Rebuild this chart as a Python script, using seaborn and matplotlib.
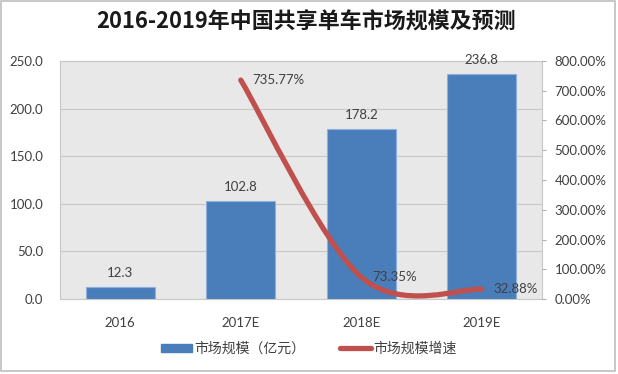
import numpy as np
import pandas as pd
import matplotlib
matplotlib.use('Agg')
import matplotlib.pyplot as plt
import seaborn as sns
from matplotlib.path import Path
import matplotlib.patches as mpatches
from matplotlib.lines import Line2D

# Data
years = ['2016', '2017E', '2018E', '2019E']
market_size = [12.3, 102.8, 178.2, 236.8]          # 亿元
growth_years = ['2017E', '2018E', '2019E']
growth_rate = [735.77, 73.35, 32.88]               # %
size_ticks = [0, 50, 100, 150, 200, 250]
rate_ticks = [0, 100, 200, 300, 400, 500, 600, 700, 800]

bar_color = '#4a7ebb'
line_color = '#c0504d'
text_color = '#404040'

sns.set_style('white')
plt.rcParams['font.family'] = ['Lato', 'Noto Sans CJK SC', 'DejaVu Sans']

fig = plt.figure(figsize=(6.18, 3.74), dpi=100, facecolor='w')
ax = fig.add_axes([0.0971, 0.2005, 0.78, 0.6365])
ax.set_facecolor('#e8e8e8')

df = pd.DataFrame({'year': years, 'size': market_size})
sns.barplot(ax=ax, data=df, x='year', y='size', color=bar_color, saturation=1,
            width=0.57, edgecolor='#8fb0dc', linewidth=0.8, zorder=3)

ax.set_ylim(0, 250)
ax.set_xlim(-0.5, 3.5)
ax.set_yticks(size_ticks)
ax.set_yticklabels(['{:.1f}'.format(v) for v in size_ticks])
ax.grid(axis='y', color='#c8c8c8', linewidth=0.8, zorder=0)
ax.set_axisbelow(True)
ax.set_xlabel('')
ax.set_ylabel('')
ax.tick_params(axis='y', length=0, pad=12, labelsize=9.5, labelcolor=text_color)
ax.tick_params(axis='x', length=0, pad=13, labelsize=9.5, labelcolor=text_color)
for s in ax.spines.values():
    s.set_color('#c8c8c8')
    s.set_linewidth(0.8)

# Bar value labels
for i, v in enumerate(market_size):
    ax.annotate('{:.1f}'.format(v), (i, v), xytext=(0, 10), textcoords='offset points',
                ha='center', va='center', fontsize=9.5, color=text_color)

# Growth rate on secondary axis, smoothed like Excel
ax2 = ax.twinx()
ax2.set_ylim(0, 800)
ax2.set_yticks(rate_ticks)
ax2.set_yticklabels(['{:.2f}%'.format(v) for v in rate_ticks])
ax2.tick_params(axis='y', length=3, width=0.8, color='#b0b0b0', pad=6,
                labelsize=9.5, labelcolor=text_color)
for s in ax2.spines.values():
    s.set_visible(False)

xpos = [years.index(y) for y in growth_years]
pts = np.column_stack([xpos, growth_rate]).astype(float)
n = len(pts)
verts = [tuple(pts[0])]
codes = [Path.MOVETO]
for i in range(n - 1):
    p0 = pts[max(i - 1, 0)]
    p1 = pts[i]
    p2 = pts[i + 1]
    p3 = pts[min(i + 2, n - 1)]
    c1 = p1 + (p2 - p0) / 6
    c2 = p2 - (p3 - p1) / 6
    verts += [tuple(c1), tuple(c2), tuple(p2)]
    codes += [Path.CURVE4, Path.CURVE4, Path.CURVE4]
curve = mpatches.PathPatch(Path(verts, codes), facecolor='none', edgecolor=line_color,
                           linewidth=3.8, capstyle='round', joinstyle='round', zorder=4)
ax2.add_patch(curve)

for x, v in zip(xpos, growth_rate):
    ax2.annotate('{:.2f}%'.format(v), (x, v), xytext=(8, 0), textcoords='offset points',
                 ha='left', va='center', fontsize=9.5, color=text_color)

# Title
fig.text(0.495, 0.94, '2016-2019年中国共享单车市场规模及预测', ha='center', va='center',
         fontsize=15.8, fontweight='bold', color='#1a1a1a',
         family=['Noto Sans CJK SC', 'DejaVu Sans'])

# Legend
handles = [
    mpatches.Patch(color=bar_color, label='市场规模（亿元）'),
    Line2D([0], [0], color=line_color, linewidth=3.8, label='市场规模增速'),
]
fig.legend(handles=handles, loc='center', bbox_to_anchor=(0.5, 0.067), ncol=2,
           frameon=False, handlelength=2.2, handleheight=0.6,
           columnspacing=2.5, handletextpad=0.2, labelcolor=text_color,
           prop={'family': ['Noto Sans CJK SC', 'DejaVu Sans'], 'size': 10})

# Outer border
fig.patches.append(mpatches.Rectangle((0.002, 0.008), 0.993, 0.989, transform=fig.transFigure,
                                      fill=False, edgecolor='#bfbfbf', linewidth=1.2))

plt.savefig('out.png', dpi=100)
